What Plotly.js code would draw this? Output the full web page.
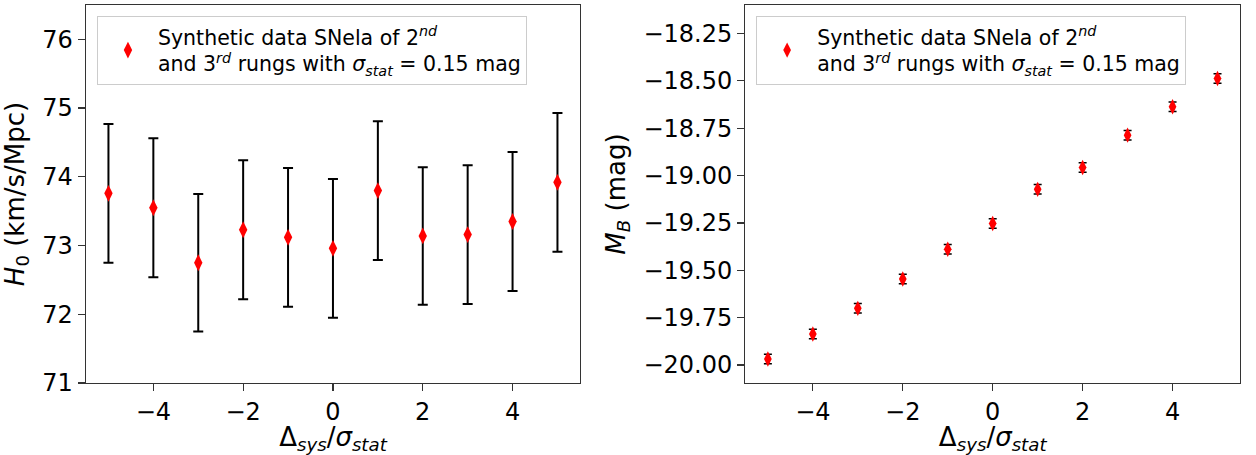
<!DOCTYPE html>
<html>
<head>
<meta charset="utf-8">
<script src="https://cdn.plot.ly/plotly-3.0.1.min.js"></script>
<style>html,body{margin:0;padding:0;background:#fff;}#chart{width:1256px;height:455px;}</style>
</head>
<body>
<div id="chart"></div>
<script>
// x positions: Delta_sys / sigma_stat
const ratio = [-5, -4, -3, -2, -1, 0, 1, 2, 3, 4, 5];
// Left panel: H0 (km/s/Mpc)
const h0 = [73.76, 73.55, 72.75, 73.23, 73.12, 72.96, 73.80, 73.14, 73.16, 73.35, 73.92];
const h0Err = [1.01, 1.01, 1.0, 1.01, 1.01, 1.01, 1.01, 1.0, 1.01, 1.01, 1.01];
// Right panel: M_B (mag)
const mB = [-19.968, -19.836, -19.701, -19.546, -19.389, -19.253, -19.073, -18.958, -18.787, -18.637, -18.488];
const mBErr = [0.025, 0.025, 0.025, 0.025, 0.025, 0.025, 0.025, 0.025, 0.025, 0.025, 0.025];

const legendText = 'Synthetic data SNela of 2<sup><i>nd</i></sup><br>and 3<sup><i>rd</i></sup> rungs with <i>σ</i><sub><i>stat</i></sub> = 0.15 mag';
const FONT = 'DejaVu Sans, sans-serif';

const traces = [
  {
    x: ratio, y: h0, type: 'scatter', mode: 'markers', name: legendText,
    xaxis: 'x', yaxis: 'y', legend: 'legend',
    marker: {symbol: 'diamond-tall', size: 12, color: '#ff0000'},
    error_y: {type: 'data', array: h0Err, visible: true, color: '#000000', thickness: 2, width: 5}
  },
  {
    x: ratio, y: mB, type: 'scatter', mode: 'markers', name: legendText,
    xaxis: 'x2', yaxis: 'y2', legend: 'legend2',
    marker: {symbol: 'diamond-tall', size: 11, color: '#ff0000'},
    error_y: {type: 'data', array: mBErr, visible: true, color: '#000000', thickness: 1.5, width: 4}
  }
];

const axisCommon = {
  showgrid: false, zeroline: false, showline: true, mirror: true,
  linecolor: '#333333', linewidth: 1.3,
  ticks: 'outside', ticklen: 7, tickwidth: 1.3, tickcolor: '#333333',
  tickfont: {family: FONT, size: 24, color: '#000'},
  automargin: false
};

const xTitle = 'Δ<sub><i>sys</i></sub>/<i>σ</i><sub><i>stat</i></sub>';

const layout = {
  width: 1256, height: 455,
  margin: {l: 85.7, r: 16, t: 5, b: 72.3},
  paper_bgcolor: '#ffffff', plot_bgcolor: '#ffffff',
  font: {family: FONT, color: '#000'},
  xaxis: Object.assign({}, axisCommon, {
    domain: [0, 0.428], range: [-5.5, 5.5], dtick: 2, tick0: 0, anchor: 'y',
    title: {text: xTitle, font: {family: FONT, size: 26}, standoff: 8}
  }),
  yaxis: Object.assign({}, axisCommon, {
    domain: [0, 1], range: [71, 76.5], dtick: 1, tick0: 71, anchor: 'x',
    title: {text: '<i>H</i><sub>0</sub> (km/s/Mpc)', font: {family: FONT, size: 26}, standoff: 10}
  }),
  xaxis2: Object.assign({}, axisCommon, {
    domain: [0.5714, 1], range: [-5.5, 5.5], dtick: 2, tick0: 0, anchor: 'y2',
    title: {text: xTitle, font: {family: FONT, size: 26}, standoff: 8}
  }),
  yaxis2: Object.assign({}, axisCommon, {
    domain: [0, 1], range: [-20.095, -18.10], dtick: 0.25, tick0: -20, tickformat: '.2f', anchor: 'x2',
    title: {text: '<i>M</i><sub><i>B</i></sub> (mag)', font: {family: FONT, size: 26}, standoff: 10}
  }),
  showlegend: true,
  legend: {
    x: 0.0095, y: 0.971, xanchor: 'left', yanchor: 'top',
    bgcolor: '#ffffff', bordercolor: '#cccccc', borderwidth: 1,
    font: {family: FONT, size: 20.5, color: '#000'}, itemwidth: 50
  },
  legend2: {
    x: 0.5807, y: 0.971, xanchor: 'left', yanchor: 'top',
    bgcolor: '#ffffff', bordercolor: '#cccccc', borderwidth: 1,
    font: {family: FONT, size: 20.5, color: '#000'}, itemwidth: 50
  }
};

Plotly.newPlot('chart', traces, layout, {displayModeBar: false, staticPlot: true});
</script>
</body>
</html>
